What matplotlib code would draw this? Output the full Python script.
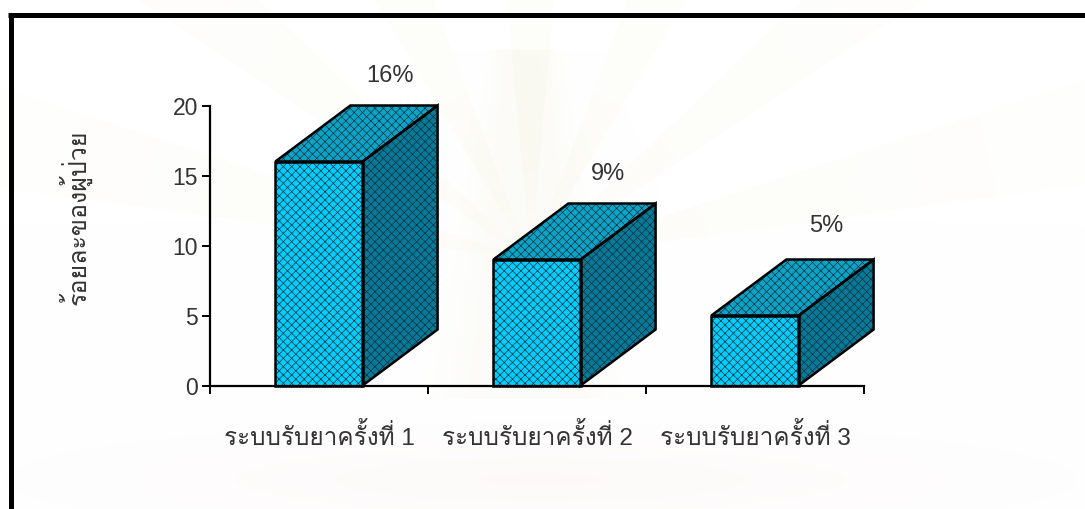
import matplotlib
matplotlib.use('Agg')
import matplotlib.pyplot as plt
import numpy as np
from matplotlib import font_manager
from matplotlib.ft2font import FT2Font
from matplotlib.patches import Polygon

categories = ['ระบบรับยาครั้งที่ 1', 'ระบบรับยาครั้งที่ 2', 'ระบบรับยาครั้งที่ 3']
values = [16, 9, 5]
labels = ['16%', '9%', '5%']
y_title = 'ร้อยละของผู้ป่วย'
y_ticks = [0, 5, 10, 15, 20]

# look for any installed font that can draw Thai
thai_fonts = []
for f in font_manager.fontManager.ttflist:
    try:
        if 0x0E23 in FT2Font(f.fname).get_charmap() and f.name not in thai_fonts:
            thai_fonts.append(f.name)
    except Exception:
        pass
plt.rcParams['font.family'] = ['Liberation Sans'] + thai_fonts + ['DejaVu Sans']
plt.rcParams['hatch.linewidth'] = 0.5

W, H = 1085, 510
TXT = '#333333'
fig = plt.figure(figsize=(W / 100, H / 100), dpi=100)

# very faint scanned emblem behind the chart: soft rays, tower and a pink band low down
yy, xx = np.mgrid[0:H, 0:W]
ang = np.arctan2(xx - 530, 260 - yy)
rad = np.hypot(xx - 530, yy - 260)
rays = (np.cos(ang * 14) > 0.3) * (yy < 260) * np.exp(-rad / 420) * np.clip(rad / 120, 0, 1)
tower = np.exp(-(((xx - 525) / (25 + yy * 0.16)) ** 4)) * (yy > 50) * (yy < 400)
low = np.exp(-((yy - 480) / 45.0) ** 2) * np.exp(-((xx - 540) / 420.0) ** 2)
shade = np.ones((H, W, 3))
shade[..., 0] -= 0.01 * rays + 0.012 * tower + 0.006 * low
shade[..., 1] -= 0.012 * rays + 0.014 * tower + 0.02 * low
shade[..., 2] -= 0.035 * rays + 0.03 * tower + 0.02 * low
bg = fig.add_axes([0, 0, 1, 1], zorder=0)
bg.imshow(np.clip(shade, 0, 1), aspect='auto', interpolation='bilinear')
bg.axis('off')

ax = fig.add_axes([210 / W, 1 - 386.5 / H, 654 / W, 280 / H], zorder=1)
ax.set_xlim(0, 3)
ax.set_ylim(0, 20)
ax.patch.set_visible(False)

bar_w = 0.4
dx, dy = 0.344, 4
label_gap = [6.2, 6.2, 6.45]
for i, v in enumerate(values):
    x0 = i + 0.5 - bar_w / 2
    x1 = x0 + bar_w
    top = [(x0, v), (x1, v), (x1 + dx, v + dy), (x0 + dx, v + dy)]
    side = [(x1, 0), (x1 + dx, dy), (x1 + dx, v + dy), (x1, v)]
    front = [(x0, 0), (x1, 0), (x1, v), (x0, v)]
    for pts, c in [(top, '#0aa4c8'), (side, '#067a98'), (front, '#00ceff')]:
        ax.add_patch(Polygon(pts, closed=True, facecolor=c, edgecolor='#07323f', hatch='xxxx', lw=0, clip_on=False, zorder=2))
        ax.add_patch(Polygon(pts, closed=True, fill=False, edgecolor='black', lw=1.8, clip_on=False, zorder=3, joinstyle='miter'))
    ax.text(i + 0.5 + 0.325, v + label_gap[i], labels[i], ha='center', va='center', fontsize=17, color=TXT)

for s in ['top', 'right']:
    ax.spines[s].set_visible(False)
for s in ['left', 'bottom']:
    ax.spines[s].set_linewidth(1.6)
    ax.spines[s].set_zorder(4)
ax.set_yticks(y_ticks)
ax.set_xticks([0, 1, 2, 3])
ax.set_xticklabels([])
ax.tick_params(axis='both', width=1.4, length=5.5, labelsize=16.5, labelcolor=TXT, pad=3)

for i, c in enumerate(categories):
    ax.text(i + 0.5, -3.6, c, ha='center', va='center', fontsize=17.5, color=TXT)
fig.text(75 / W, 1 - 217 / H, y_title, rotation=90, ha='center', va='center', fontsize=18, color=TXT)

# page frame: only left and top edges show
fig.add_artist(plt.Line2D([10.5 / W, 10.5 / W], [0, 1 - 15.5 / H], color='black', lw=3.6, solid_capstyle='butt'))
fig.add_artist(plt.Line2D([8 / W, 1], [1 - 15.5 / H, 1 - 15.5 / H], color='black', lw=3.6, solid_capstyle='butt'))

fig.savefig('out.png', dpi=100)
